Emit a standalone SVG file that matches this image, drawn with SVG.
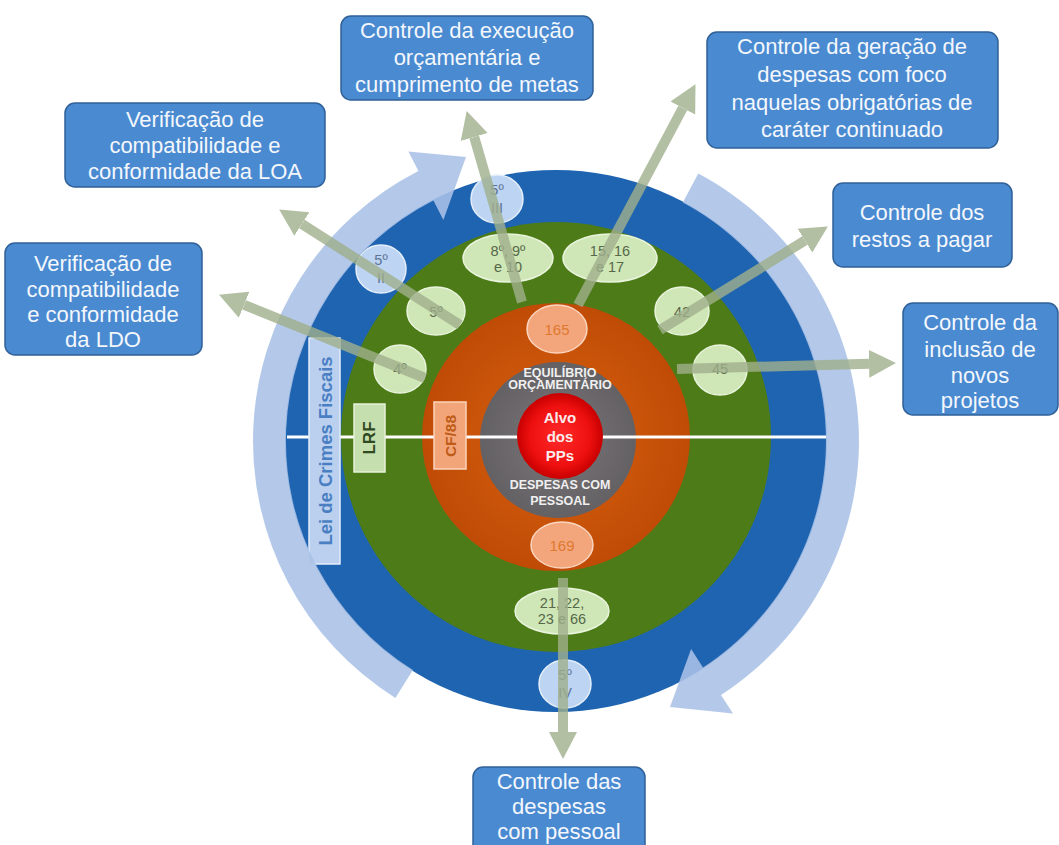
<svg xmlns="http://www.w3.org/2000/svg" width="1059" height="845" viewBox="0 0 1059 845">
  <style>
    text { font-family: "Liberation Sans", Arial, sans-serif; }
    .box { fill: #4a8ad1; stroke: #2f6098; stroke-width: 1.5; }
    .boxText { fill: #f3f7fc; font-size: 22px; text-anchor: middle; }
    .lg { fill: #cfe6b6; stroke: #e8f4dc; stroke-width: 1.5; }
    .lgText { fill: #56684a; font-size: 14.5px; text-anchor: middle; }
    .lb { fill: #bdd5f2; stroke: #e4eefa; stroke-width: 1.5; }
    .lbText { fill: #5d7394; font-size: 14.5px; text-anchor: middle; }
    .pe { fill: #f3a67c; stroke: #fbd5bf; stroke-width: 1.5; }
    .peText { fill: #e07830; font-size: 15px; text-anchor: middle; }
    .core { fill: #f0f0f0; font-size: 12.5px; font-weight: bold; text-anchor: middle; }
    .arc { fill: #aac2e7; opacity: 0.88; }
    .link { stroke: #a0b08c; stroke-width: 10; fill: none; marker-end: url(#head); }
  </style>
  <defs>
    <marker id="head" markerUnits="userSpaceOnUse" markerWidth="28" markerHeight="30" refX="0" refY="15" orient="auto">
      <path d="M0,1 L27,15 L0,29 Z" fill="#a0b08c"/>
    </marker>
    <radialGradient id="gOrange" cx="0.5" cy="0.5" r="0.5">
      <stop offset="0" stop-color="#d8620f"/>
      <stop offset="1" stop-color="#bf4b06"/>
    </radialGradient>
    <radialGradient id="gRed" cx="0.5" cy="0.5" r="0.5">
      <stop offset="0" stop-color="#ff2a2a"/>
      <stop offset="0.7" stop-color="#ee1010"/>
      <stop offset="1" stop-color="#c80000"/>
    </radialGradient>
    <radialGradient id="gGray" cx="0.5" cy="0.5" r="0.5">
      <stop offset="0" stop-color="#7a7679"/>
      <stop offset="1" stop-color="#646165"/>
    </radialGradient>
  </defs>

  <rect width="1059" height="845" fill="#ffffff"/>

  <!-- concentric rings -->
  <g id="rings">
    <circle cx="556" cy="441" r="271" fill="#1f64b0"/>
    <circle cx="556" cy="437" r="215" fill="#4d7b17"/>
    <circle cx="556" cy="437" r="134" fill="url(#gOrange)"/>
    <circle cx="558" cy="440" r="78" fill="url(#gGray)"/>
    <line x1="287" y1="437" x2="827" y2="437" stroke="#ffffff" stroke-width="3"/>
    <circle cx="560" cy="436" r="43" fill="url(#gRed)"/>
  </g>

  <!-- core labels -->
  <g id="core">
    <text class="core" x="560" y="377">EQUILÍBRIO</text>
    <text class="core" x="560" y="389">ORÇAMENTÁRIO</text>
    <text x="560" y="423" fill="#fbeaea" font-size="15" font-weight="bold" text-anchor="middle">Alvo</text>
    <text x="560" y="442" fill="#fbeaea" font-size="15" font-weight="bold" text-anchor="middle">dos</text>
    <text x="560" y="461" fill="#fbeaea" font-size="15" font-weight="bold" text-anchor="middle">PPs</text>
    <text class="core" x="560" y="489">DESPESAS COM</text>
    <text class="core" x="560" y="505">PESSOAL</text>
  </g>

  <!-- law bars -->
  <g id="lei-crimes">
    <rect x="309" y="338" width="31" height="226" fill="#bad0ee" stroke="#e2ecf9" stroke-width="1.5"/>
    <text transform="translate(331.5,451) rotate(-90)" fill="#4a7fc4" font-size="18.5" font-weight="bold" text-anchor="middle">Lei de Crimes Fiscais</text>
  </g>
  <g id="lrf">
    <rect x="354" y="404" width="31" height="68" fill="#c6dfae" stroke="#e6f2d9" stroke-width="1.5"/>
    <text transform="translate(375,438) rotate(-90)" fill="#2f4a1f" font-size="17" font-weight="bold" text-anchor="middle">LRF</text>
  </g>
  <g id="cf88">
    <rect x="434" y="402" width="32" height="67" fill="#f3a57a" stroke="#fbd3bc" stroke-width="1.5"/>
    <text transform="translate(455.5,436) rotate(-90)" fill="#bf5c18" font-size="15.5" font-weight="bold" text-anchor="middle">CF/88</text>
  </g>

  <!-- article markers -->
  <g id="art-165">
    <ellipse class="pe" cx="557" cy="329" rx="30" ry="24"/>
    <text class="peText" x="557" y="335">165</text>
  </g>
  <g id="art-169">
    <ellipse class="pe" cx="562" cy="545" rx="31" ry="23"/>
    <text class="peText" x="562" y="551">169</text>
  </g>
  <g id="art-4">
    <ellipse class="lg" cx="400" cy="369" rx="26" ry="24"/>
    <text class="lgText" x="400" y="374">4º</text>
  </g>
  <g id="art-5">
    <ellipse class="lg" cx="436" cy="311" rx="29" ry="24"/>
    <text class="lgText" x="436" y="317">5º</text>
  </g>
  <g id="art-8-9-10">
    <ellipse class="lg" cx="508" cy="258" rx="45" ry="24"/>
    <text class="lgText" x="508" y="256">8º, 9º</text>
    <text class="lgText" x="508" y="272">e 10</text>
  </g>
  <g id="art-15-16-17">
    <ellipse class="lg" cx="610" cy="258" rx="47" ry="24"/>
    <text class="lgText" x="610" y="256">15, 16</text>
    <text class="lgText" x="610" y="272">e 17</text>
  </g>
  <g id="art-42">
    <ellipse class="lg" cx="682" cy="311" rx="27" ry="24"/>
    <text class="lgText" x="682" y="317" font-size="13">42</text>
  </g>
  <g id="art-45">
    <ellipse class="lg" cx="720" cy="370" rx="27" ry="25"/>
    <text class="lgText" x="720" y="374" font-size="13">45</text>
  </g>
  <g id="art-21-22-23-66">
    <ellipse class="lg" cx="562" cy="611" rx="47" ry="23"/>
    <text class="lgText" x="562" y="608" font-size="13.5">21, 22,</text>
    <text class="lgText" x="562" y="624" font-size="13.5">23 e 66</text>
  </g>
  <g id="art-5-II">
    <ellipse class="lb" cx="381" cy="269" rx="25" ry="24"/>
    <text class="lbText" x="381" y="265">5º</text>
    <text class="lbText" x="381" y="283">II</text>
  </g>
  <g id="art-5-III">
    <ellipse class="lb" cx="497" cy="199" rx="26" ry="24"/>
    <text class="lbText" x="497" y="195">5º</text>
    <text class="lbText" x="497" y="213">III</text>
  </g>
  <g id="art-5-IV">
    <ellipse class="lb" cx="565" cy="684" rx="26" ry="24"/>
    <text class="lbText" x="565" y="680">5º</text>
    <text class="lbText" x="565" y="698">IV</text>
  </g>

  <!-- circular cycle arrows around the rings -->
  <g id="cycle">
    <path class="arc" d="M395.4,697.9 A303,303 0 0 1 418.4,171 L408.4,151.4 L466,157 L443.4,220 L433.4,200.4 A270,270 0 0 0 412.9,670 Z"/>
    <path class="arc" d="M698.3,173.5 A303,303 0 0 1 721,695.1 L733,713.6 L670,707 L691.1,649 L703,667.4 A270,270 0 0 0 682.8,202.6 Z"/>
  </g>

  <!-- connectors -->
  <g id="connectors" opacity="0.8">
    <line class="link" x1="563" y1="578" x2="563" y2="732"/>
    <line class="link" x1="522" y1="302" x2="474.2" y2="137"/>
    <line class="link" x1="578" y1="305" x2="682.8" y2="108"/>
    <line class="link" x1="660" y1="330" x2="804.9" y2="240.6"/>
    <line class="link" x1="677" y1="369" x2="869" y2="363.7"/>
    <line class="link" x1="460" y1="325" x2="301.9" y2="224"/>
    <line class="link" x1="425" y1="378" x2="244.1" y2="304.8"/>
  </g>

  <!-- outcome boxes -->
  <g id="box-loa">
    <rect class="box" x="65" y="103" width="260" height="84" rx="10"/>
    <text class="boxText" x="195" y="127">Verificação de</text>
    <text class="boxText" x="195" y="153">compatibilidade e</text>
    <text class="boxText" x="195" y="179">conformidade da LOA</text>
  </g>
  <g id="box-ldo">
    <rect class="box" x="5" y="243" width="197" height="112" rx="10"/>
    <text class="boxText" x="103" y="271">Verificação de</text>
    <text class="boxText" x="103" y="297">compatibilidade</text>
    <text class="boxText" x="103" y="322">e conformidade</text>
    <text class="boxText" x="103" y="347">da LDO</text>
  </g>
  <g id="box-execucao">
    <rect class="box" x="341" y="16" width="252" height="84" rx="10"/>
    <text class="boxText" x="467" y="38">Controle da execução</text>
    <text class="boxText" x="467" y="65">orçamentária e</text>
    <text class="boxText" x="467" y="92">cumprimento de metas</text>
  </g>
  <g id="box-geracao">
    <rect class="box" x="707" y="32" width="291" height="116" rx="10"/>
    <text class="boxText" x="852" y="54">Controle da geração de</text>
    <text class="boxText" x="852" y="82">despesas com foco</text>
    <text class="boxText" x="852" y="110">naquelas obrigatórias de</text>
    <text class="boxText" x="852" y="137">caráter continuado</text>
  </g>
  <g id="box-restos">
    <rect class="box" x="833" y="183" width="179" height="84" rx="10"/>
    <text class="boxText" x="922" y="220">Controle dos</text>
    <text class="boxText" x="922" y="247">restos a pagar</text>
  </g>
  <g id="box-novos">
    <rect class="box" x="903" y="303" width="155" height="112" rx="10"/>
    <text class="boxText" x="980" y="330">Controle da</text>
    <text class="boxText" x="980" y="357">inclusão de</text>
    <text class="boxText" x="980" y="383">novos</text>
    <text class="boxText" x="980" y="408">projetos</text>
  </g>
  <g id="box-pessoal">
    <rect class="box" x="473" y="767" width="172" height="95" rx="10"/>
    <text class="boxText" x="559" y="789">Controle das</text>
    <text class="boxText" x="559" y="814">despesas</text>
    <text class="boxText" x="559" y="839">com pessoal</text>
  </g>
</svg>
